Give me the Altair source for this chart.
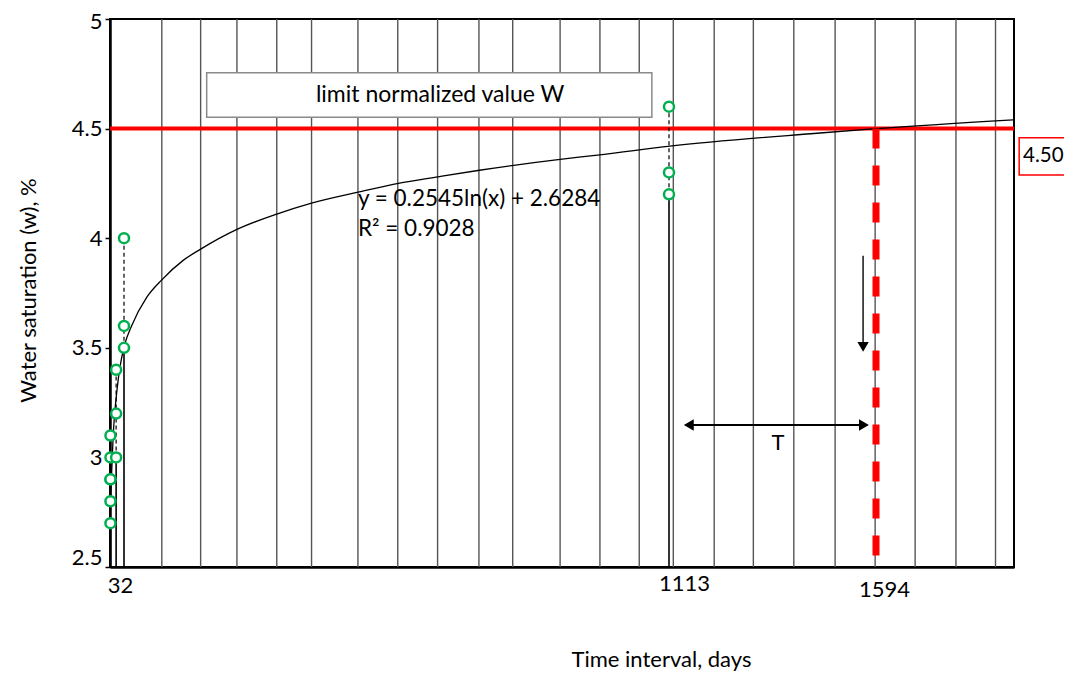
import altair as alt
import pandas as pd

# ---- observations (days, water saturation %) ----
obs_days = [1, 1, 1, 1, 1, 1, 14, 14, 14, 32, 32, 32, 1113, 1113, 1113]
obs_w = [2.7, 2.8, 2.9, 2.9, 3.0, 3.1, 3.0, 3.2, 3.4, 3.5, 3.6, 4.0, 4.2, 4.3, 4.6]

# ---- logarithmic trend line as drawn in the chart ----
trend_days = [1, 7.5, 16.7, 30.4, 34, 47, 77, 107, 150, 184, 256, 335, 404, 496,
              576, 655, 737, 897, 976, 1115, 1464, 1594, 1913]
trend_w = [2.80, 3.11, 3.32, 3.49, 3.52, 3.60, 3.73, 3.81, 3.90, 3.95, 4.04, 4.11, 4.16,
           4.21, 4.25, 4.28, 4.31, 4.36, 4.38, 4.42, 4.48, 4.50, 4.54]

# ---- vertical grid lines (days) ----
grid_days = [107, 184, 256, 335, 404, 496, 575, 654, 736, 803, 897, 976, 1054,
             1123, 1218, 1309, 1403, 1499, 1592, 1685, 1780, 1872]

# ---- limit & ticks ----
limit_w = 4.5
limit_day = 1594
y_min, y_max = 2.5, 5.0
x_ticks = [32, 1113, 1594]
y_ticks = [2.5, 3, 3.5, 4, 4.5, 5]

# piecewise x axis of the original chart
x_domain = [0, 32, 1113, 1594, 1915]
x_range = [0, 14, 559, 766, 904]

# ---- annotations (data units) ----
box_label = "limit normalized value W"
box_x, box_x2, box_y, box_y2 = 196, 1079, 4.552, 4.755
box_tx, box_ty = 659, 4.655
eq_text = ["y = 0.2545ln(x) + 2.6284", "R² = 0.9028"]
eq_x = [496, 496]
eq_y = [4.18, 4.04]
down_x, down_y1, down_y2, down_head = 1564, 3.92, 3.52, 3.504
harr_y, harr_x1, harr_x2 = 3.148, 1159, 1566
harr_head_x = [1159, 1566]
harr_head_shape = ["triangle-left", "triangle-right"]
t_x, t_y = 1366, 3.066
val_box = dict(x=1927, x2=2060, y=4.288, y2=4.458)
val_tx, val_ty = 1936, 4.375

FONT = "Lato"
FS = 22

xs = alt.Scale(domain=x_domain, range=x_range, nice=False, zero=False)
ys = alt.Scale(domain=[y_min, y_max], nice=False, zero=False)

x_axis = alt.Axis(
    values=x_ticks, format="d", title="Time interval, days", ticks=False, grid=False,
    domainColor="black", domainWidth=2.5, labelFontSize=FS, labelColor="black",
    labelFlush=False, labelOverlap=False,
    labelOffset={"condition": [{"test": "datum.value == 32", "value": -4},
                               {"test": "datum.value == 1113", "value": 15}], "value": 8},
    labelPadding={"condition": [{"test": "datum.value == 1594", "value": 12},
                                {"test": "datum.value == 1113", "value": 6}], "value": 8},
    titleX=551, titleY=92, titleAlign="center", titleBaseline="middle",
    titleFontSize=FS, titleFontWeight="normal", titleColor="black",
)
y_axis = alt.Axis(
    values=y_ticks, format="~g", title="Water saturation (w), %", grid=False,
    tickSize=5, tickColor="black", tickWidth=1.5, domainColor="black", domainWidth=2.5,
    labelFontSize=FS, labelColor="black", labelPadding=3, labelFlush=False,
    labelOffset={"condition": [{"test": "datum.value == 2.5", "value": -10},
                               {"test": "datum.value == 5", "value": 2}], "value": 0},
    titleX=-82, titleY=271, titleAlign="center", titleBaseline="middle",
    titleFontSize=FS, titleFontWeight="normal", titleColor="black",
)

X = lambda f: alt.X(f, type="quantitative", scale=xs)
Y = lambda f: alt.Y(f, type="quantitative", scale=ys)

grid = alt.Chart(pd.DataFrame({"day": grid_days})).mark_rule(
    color="#555555", strokeWidth=1.4
).encode(x=alt.X("day:Q", scale=xs, axis=x_axis))

box = alt.Chart(pd.DataFrame({"x": [box_x], "x2": [box_x2], "y": [box_y], "y2": [box_y2]})).mark_rect(
    fill="white", stroke="#8a8a8a", strokeWidth=1.5
).encode(x=X("x"), x2="x2", y=Y("y"), y2="y2")

box_txt = alt.Chart(pd.DataFrame({"x": [box_tx], "y": [box_ty], "t": [box_label]})).mark_text(
    font=FONT, fontSize=23, color="black", align="center", baseline="middle"
).encode(x=X("x"), y=Y("y"), text="t:N")

red_h = alt.Chart(pd.DataFrame({"w": [limit_w]})).mark_rule(
    color="#ff0000", strokeWidth=4
).encode(y=alt.Y("w:Q", scale=ys, axis=y_axis))

trend = alt.Chart(pd.DataFrame({"day": trend_days, "w": trend_w})).mark_line(
    color="black", strokeWidth=1.3, interpolate="monotone"
).encode(x=X("day"), y=Y("w"))

obs = pd.DataFrame({"day": obs_days, "w": obs_w})
drop_base = alt.Chart(obs).transform_aggregate(
    lo="min(w)", hi="max(w)", groupby=["day"]
).transform_calculate(base=str(y_min))
drop_solid = drop_base.mark_rule(color="black", strokeWidth=1.6).encode(
    x=X("day"), y=Y("base"), y2="lo:Q")
drop_dash = drop_base.mark_rule(color="black", strokeWidth=1.2, strokeDash=[4, 3]).encode(
    x=X("day"), y=Y("lo"), y2="hi:Q")

red_v = alt.Chart(pd.DataFrame({"day": [limit_day], "w": [limit_w], "w0": [y_min]})).mark_rule(
    color="#ff0000", strokeWidth=7, strokeDash=[20, 17], strokeCap="butt"
).encode(x=X("day"), y=Y("w"), y2="w0")

down_shaft = alt.Chart(pd.DataFrame({"x": [down_x], "y": [down_y1], "y2": [down_y2]})).mark_rule(
    color="#222222", strokeWidth=1.6
).encode(x=X("x"), y=Y("y"), y2="y2")
down_head_m = alt.Chart(pd.DataFrame({"x": [down_x], "y": [down_head]})).mark_point(
    shape="triangle-down", filled=True, color="black", size=130, opacity=1
).encode(x=X("x"), y=Y("y"))

h_shaft = alt.Chart(pd.DataFrame({"x": [harr_x1], "x2": [harr_x2], "y": [harr_y]})).mark_rule(
    color="black", strokeWidth=2
).encode(x=X("x"), x2="x2", y=Y("y"))
h_heads = alt.Chart(pd.DataFrame({"x": harr_head_x, "y": [harr_y, harr_y], "s": harr_head_shape})).mark_point(
    filled=True, color="black", size=130, opacity=1
).encode(x=X("x"), y=Y("y"),
         shape=alt.Shape("s:N", scale=alt.Scale(domain=harr_head_shape, range=harr_head_shape), legend=None))

t_txt = alt.Chart(pd.DataFrame({"x": [t_x], "y": [t_y], "t": ["T"]})).mark_text(
    font=FONT, fontSize=FS, color="black", align="center", baseline="middle"
).encode(x=X("x"), y=Y("y"), text="t:N")

eq = alt.Chart(pd.DataFrame({"x": eq_x, "y": eq_y, "t": eq_text})).mark_text(
    font=FONT, fontSize=22.5, color="black", align="left", baseline="middle"
).encode(x=X("x"), y=Y("y"), text="t:N")

vbox = alt.Chart(pd.DataFrame({k: [v] for k, v in val_box.items()})).mark_rect(
    fill="white", stroke="#ff0000", strokeWidth=1.5
).encode(x=X("x"), x2="x2", y=Y("y"), y2="y2")
vtxt = alt.Chart(pd.DataFrame({"x": [val_tx], "y": [val_ty], "t": [f"{limit_w:.2f}"]})).mark_text(
    font=FONT, fontSize=20.5, color="black", align="left", baseline="middle"
).encode(x=X("x"), y=Y("y"), text="t:N")

points = alt.Chart(obs).mark_point(
    shape="circle", fill="white", stroke="#00b050", strokeWidth=2.5, size=100, opacity=1, fillOpacity=1
).encode(x=X("day"), y=Y("w"))

chart = alt.layer(
    grid, box, box_txt, red_h, trend, drop_solid, drop_dash, red_v,
    down_shaft, down_head_m, h_shaft, h_heads, t_txt, eq, vbox, vtxt, points
).properties(
    width=904, height=548,
    autosize=alt.AutoSizeParams(type="none"),
    padding={"left": 102, "top": 11, "right": 50, "bottom": 105},
).configure(font=FONT).configure_view(stroke="black", strokeWidth=2)

chart.save("out.html", embed_options={"renderer": "svg", "actions": False})
